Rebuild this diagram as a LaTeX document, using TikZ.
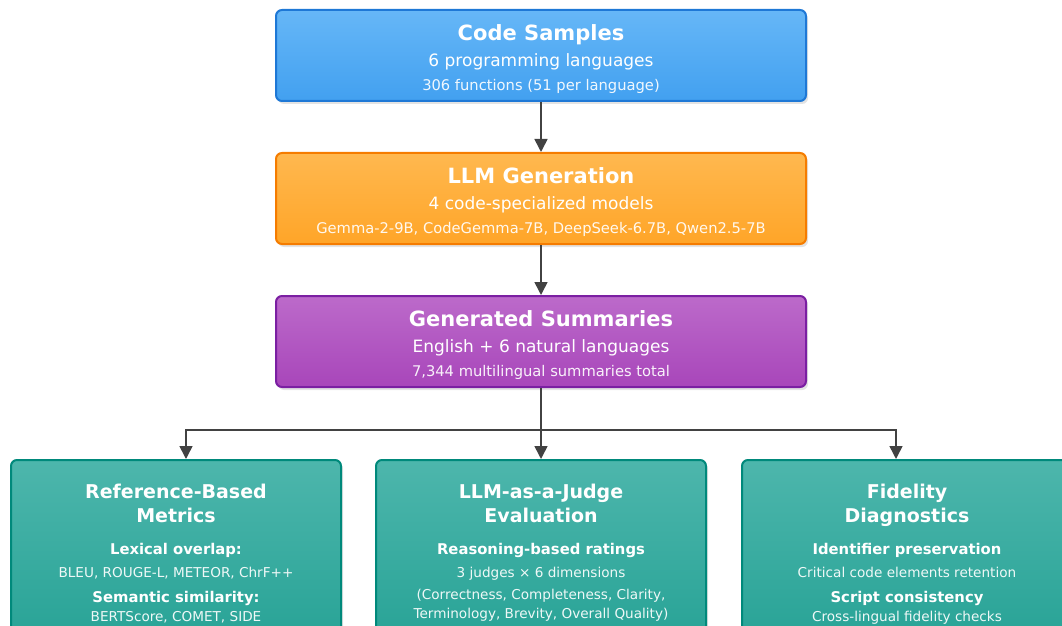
\documentclass[tikz,border=0pt]{standalone}
\usepackage{fontspec}
\setmainfont{DejaVu Sans}
\usetikzlibrary{arrows.meta,shadows}
\definecolor{blueT}{HTML}{66B7F7}
\definecolor{blueB}{HTML}{42A0F0}
\definecolor{blueD}{HTML}{1E78D6}
\definecolor{orT}{HTML}{FFB84F}
\definecolor{orB}{HTML}{FFA528}
\definecolor{orD}{HTML}{F57C00}
\definecolor{puT}{HTML}{BC6ACA}
\definecolor{puB}{HTML}{A846BA}
\definecolor{puD}{HTML}{7B1FA2}
\definecolor{teT}{HTML}{4DB6AC}
\definecolor{teB}{HTML}{26A295}
\definecolor{teD}{HTML}{00897B}
\definecolor{arrC}{HTML}{424242}
\begin{document}
\begin{tikzpicture}[x=1pt,y=1pt,
  boxbase/.style={rounded corners=6pt, line width=2pt, inner sep=0pt,
    drop shadow={shadow xshift=2pt,shadow yshift=-3pt,opacity=0.22}},
  topbox/.style={boxbase, minimum width=530pt, minimum height=91pt},
  botbox/.style={boxbase, minimum width=330pt, minimum height=190pt, top color=teT, bottom color=teB, draw=teD},
  txt/.style={text=white, inner sep=0pt, text height=0.76em, text depth=0.22em},
  ttl/.style={txt, font=\bfseries\fontsize{21}{25}\selectfont},
  sub/.style={txt, font=\fontsize{17}{20}\selectfont},
  small/.style={txt, opacity=0.92, font=\fontsize{14.7}{17}\selectfont},
  bttl/.style={txt, font=\bfseries\fontsize{19}{23}\selectfont},
  bhead/.style={txt, font=\bfseries\fontsize{14.8}{17}\selectfont},
  btxt/.style={txt, opacity=0.92, font=\fontsize{13.6}{16}\selectfont},
  arr/.style={draw=arrC, line width=1.6pt, -{Triangle[width=13pt,length=13pt]}}
]
\useasboundingbox (0,0) rectangle (1062,625);
\clip (0,0) rectangle (1062,625);

% top boxes
\node[topbox, top color=blueT, bottom color=blueB, draw=blueD] (code) at (541,569.5) {};
\node[ttl] (codeT) at (541,587) {Code Samples};
\node[sub] (codeS) at (541,561) {6 programming languages};
\node[small] (codeX) at (541,537) {306 functions (51 per language)};

\node[topbox, top color=orT, bottom color=orB, draw=orD] (gen) at (541,426.5) {};
\node[ttl] (genT) at (541,444) {LLM Generation};
\node[sub] (genS) at (541,418) {4 code-specialized models};
\node[small] (genX) at (541,394) {Gemma-2-9B, CodeGemma-7B, DeepSeek-6.7B, Qwen2.5-7B};

\node[topbox, top color=puT, bottom color=puB, draw=puD] (summ) at (541,283.5) {};
\node[ttl] (summT) at (541,301) {Generated Summaries};
\node[sub] (summS) at (541,275) {English + 6 natural languages};
\node[small] (summX) at (541,251) {7,344 multilingual summaries total};

% bottom boxes
\node[botbox] (ref) at (176,70) {};
\node[bttl] (refT1) at (176,129) {Reference-Based};
\node[bttl] (refT2) at (176,105) {Metrics};
\node[bhead] (refH1) at (176,73) {Lexical overlap:};
\node[btxt] (refL1) at (176,50) {BLEU, ROUGE-L, METEOR, ChrF++};
\node[bhead] (refH2) at (176,25) {Semantic similarity:};
\node[btxt] (refL2) at (176,6) {BERTScore, COMET, SIDE};

\node[botbox] (judge) at (541,70) {};
\node[bttl] (jT1) at (541,129) {LLM-as-a-Judge};
\node[bttl] (jT2) at (541,105) {Evaluation};
\node[bhead] (jH1) at (541,73) {Reasoning-based ratings};
\node[btxt] (jL1) at (541,50) {3 judges × 6 dimensions};
\node[btxt] (jL2) at (541,28) {(Correctness, Completeness, Clarity,};
\node[btxt] (jL3) at (541,9) {Terminology, Brevity, Overall Quality)};

\node[botbox] (fid) at (907,70) {};
\node[bttl] (fT1) at (907,129) {Fidelity};
\node[bttl] (fT2) at (907,105) {Diagnostics};
\node[bhead] (fH1) at (907,73) {Identifier preservation};
\node[btxt] (fL1) at (907,50) {Critical code elements retention};
\node[bhead] (fH2) at (907,25) {Script consistency};
\node[btxt] (fL2) at (907,6) {Cross-lingual fidelity checks};

% connectors
\coordinate (jc) at (541,195);
\coordinate (jl) at (186,195);
\coordinate (jr) at (896,195);
\draw[arr] (code.south) -- (gen.north);
\draw[arr] (gen.south) -- (summ.north);
\draw[arr] (summ.south) -- (judge.north);
\draw[arr] (jc) -- (jl) -- (jl |- ref.north);
\draw[arr] (jc) -- (jr) -- (jr |- fid.north);
\end{tikzpicture}
\end{document}
